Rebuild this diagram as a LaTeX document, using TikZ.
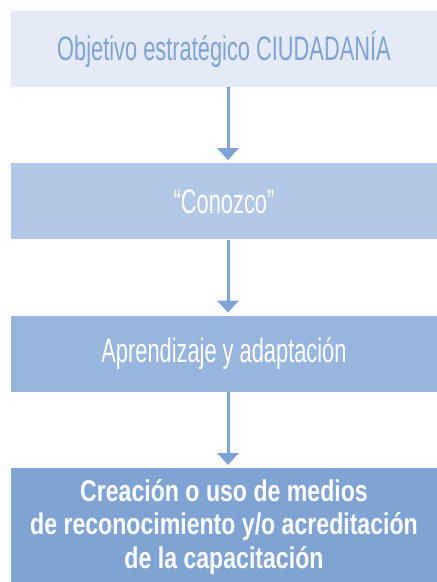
\documentclass[tikz,border=0pt]{standalone}
\usepackage{fontspec}
\setmainfont{Liberation Sans}[FakeStretch=0.642, BoldFeatures={FakeStretch=0.77}]
\usetikzlibrary{positioning, arrows.meta}
\definecolor{paleblue}{HTML}{E4EBF6}
\definecolor{lightblue}{HTML}{B2C8E7}
\definecolor{midblue}{HTML}{98B5DD}
\definecolor{deepblue}{HTML}{7FA3D3}

\begin{document}
\begin{tikzpicture}[x = 1pt, y = 1pt, node distance = 76pt,
                    flow/.style = {-{Triangle[width = 21pt, length = 12pt]},
                                   line width = 3pt,
                                   deepblue,
                                   shorten > = 3pt},
                    stage/.style = {rectangle,
                                    minimum width = 426pt,
                                    minimum height = 76pt,
                                    inner sep = 0pt,
                                    align = center,
                                    font = \fontsize{34}{33.5}\selectfont,
                                    text = white}]

\useasboundingbox (0, 0) rectangle (437, -582);

\node[stage, fill = paleblue, text = deepblue] (goal) at (224, -49) {Objetivo estratégico CIUDADANÍA};
\node[stage, fill = lightblue] (know) [below = of goal] {“Conozco”};
\node[stage, fill = midblue] (learn) [below = of know] {Aprendizaje y adaptación};
\node[stage, fill = deepblue, minimum height = 117pt,
      font = \fontsize{30}{33.5}\selectfont\bfseries] (create) [below = of learn]
     {Creación o uso de medios\\de reconocimiento y/o acreditación\\de la capacitación};

% arrows sit a little right of the box centres
\draw[flow] ([xshift = 4pt]goal.south) -- ([xshift = 4pt]know.north);
\draw[flow] ([xshift = 4pt]know.south) -- ([xshift = 4pt]learn.north);
\draw[flow] ([xshift = 4pt]learn.south) -- ([xshift = 4pt]create.north);

\end{tikzpicture}
\end{document}
